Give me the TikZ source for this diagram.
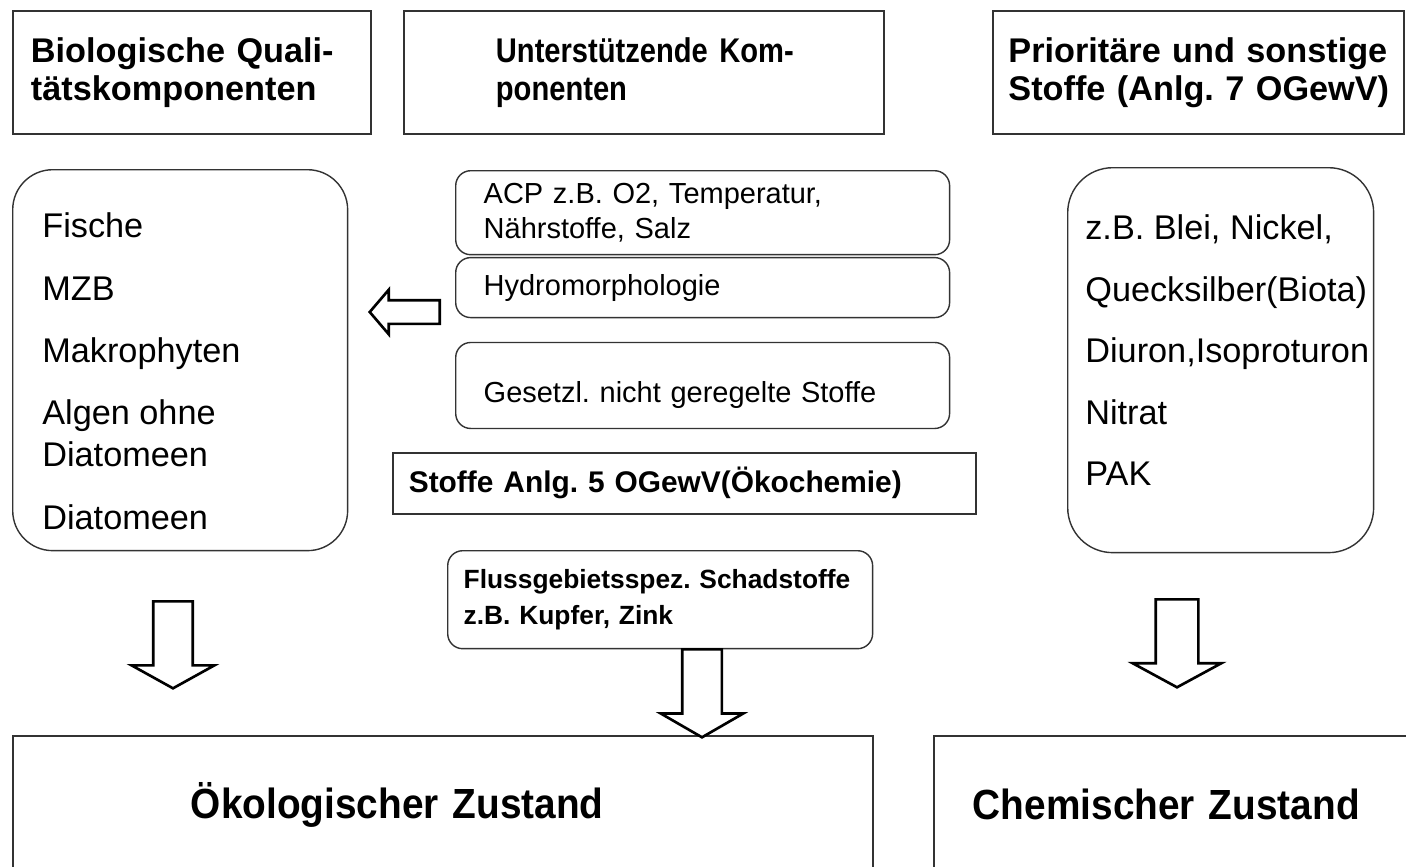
\documentclass[tikz,border=0pt]{standalone}
\usepackage{fontspec}
\setmainfont{Liberation Sans}
\newfontfamily\narrowsans[FakeStretch=0.85]{Liberation Sans}
\newfontfamily\condsans[FakeStretch=0.92]{Liberation Sans}
\usetikzlibrary{positioning,shapes.arrows}
\frenchspacing

\begin{document}
\begin{tikzpicture}[
  x=0.02cm, y=-0.02cm,
  headbox/.style={draw=black!80, line width=1.1pt, anchor=north west, minimum height=2.46cm, inner sep=0pt, align=left, font=\fontsize{19.5}{21.6}\selectfont\bfseries},
  listbox/.style={draw=black!80, line width=0.8pt, anchor=north west, rounded corners=0.8cm},
  listtext/.style={anchor=north west, inner sep=0pt, align=left},
  smallbox/.style={draw=black!80, line width=0.8pt, rounded corners=0.3cm, minimum width=9.88cm, inner sep=0pt, text width=8.76cm, align=left, font=\fontsize{16.5}{20}\selectfont},
  statebox/.style={draw=black!80, line width=1pt, anchor=north west, minimum height=2.76cm, inner sep=0pt, align=left, font=\fontsize{24}{28}\selectfont\condsans\bfseries},
  blockarrow/.style={single arrow, draw=black, line width=1.5pt, fill=white, minimum width=0pt, line join=miter},
  downarrow/.style={blockarrow, shape border rotate=270, inner ysep=0pt, anchor=tail}
]
\path[use as bounding box, clip] (0,0) rectangle (1406,866);

% header row
\node[headbox, minimum width=7.16cm, text width=6.44cm] (hbio) at (12,10) {\mbox{Biologische Quali-}\\\mbox{tätskomponenten}};
\node[headbox, minimum width=9.6cm, text width=5.92cm, font=\fontsize{19.5}{21.6}\selectfont\narrowsans\bfseries] (hunt) at (403,10) {\mbox{Unterstützende Kom-}\\\mbox{ponenten}};
\node[headbox, minimum width=8.22cm, text width=7.6cm] (hprio) at (992,10) {\mbox{Prioritäre und sonstige}\\\mbox{Stoffe (Anlg. 7 OGewV)}};

% left column
\node[listbox, minimum width=6.7cm, minimum height=7.62cm] (bio) at (12,169) {};
\node[listtext, font=\fontsize{19.5}{24}\selectfont] (biotext) at (42,212.5) {Fische\\[11.5pt] MZB\\[11.5pt] Makrophyten\\[11.5pt] Algen ohne\\ Diatomeen\\[11.5pt] Diatomeen};

% middle column
\node[smallbox, anchor=north west, minimum height=1.68cm] (acp) at (455,170) {ACP z.B. O2, Temperatur,\\Nährstoffe, Salz};
\node[smallbox, minimum height=1.2cm, below=0.03cm of acp] (hydro) {Hydromorphologie};
\node[smallbox, minimum height=1.72cm, text height=22pt, text depth=3pt, below=0.47cm of hydro] (gesetz) {Gesetzl. nicht geregelte Stoffe};
\node[draw=black!80, line width=1pt, anchor=north west, minimum width=11.66cm, minimum height=1.22cm, inner sep=0pt, text width=11.02cm, align=left, font=\fontsize{17}{20}\selectfont\bfseries] (oeko) at (392,452) {Stoffe Anlg. 5 OGewV(Ökochemie)};
\node[smallbox, anchor=north west, minimum width=8.5cm, minimum height=1.96cm, text width=7.86cm, font=\fontsize{15}{20.5}\selectfont\bfseries] (fluss) at (447,550) {Flussgebietsspez. Schadstoffe\\z.B. Kupfer, Zink};

% right column
\node[listbox, rounded corners=0.9cm, minimum width=6.12cm, minimum height=7.7cm] (prio) at (1067,167) {};
\node[listtext, font=\fontsize{19.5}{35}\selectfont] (priotext) at (1085,214.5) {z.B. Blei, Nickel,\\Quecksilber(Biota)\\Diuron,Isoproturon\\Nitrat\\PAK};

% results
\node[statebox, minimum width=17.2cm, text width=10.08cm] (oekz) at (12,735) {Ökologischer Zustand};
\node[statebox, minimum width=9.74cm, text width=8.18cm] (chemz) at (933,735) {Chemischer Zustand};

% block arrows
\node[blockarrow, shape border rotate=180, minimum height=1.4cm, inner xsep=0pt, inner ysep=0.21cm, single arrow head extend=0.21cm, single arrow tip angle=99, anchor=tip] (arrl) at (368,312) {};
\node[downarrow, minimum height=1.74cm, inner xsep=0.37cm, single arrow head extend=0.43cm, single arrow tip angle=122] (arr1) at (173,600) {};
\node[downarrow, minimum height=1.76cm, inner xsep=0.37cm, single arrow head extend=0.43cm, single arrow tip angle=120] (arr2) at (702,648) {};
\node[downarrow, minimum height=1.76cm, inner xsep=0.4cm, single arrow head extend=0.46cm, single arrow tip angle=123] (arr3) at (1177,598) {};

\end{tikzpicture}
\end{document}
